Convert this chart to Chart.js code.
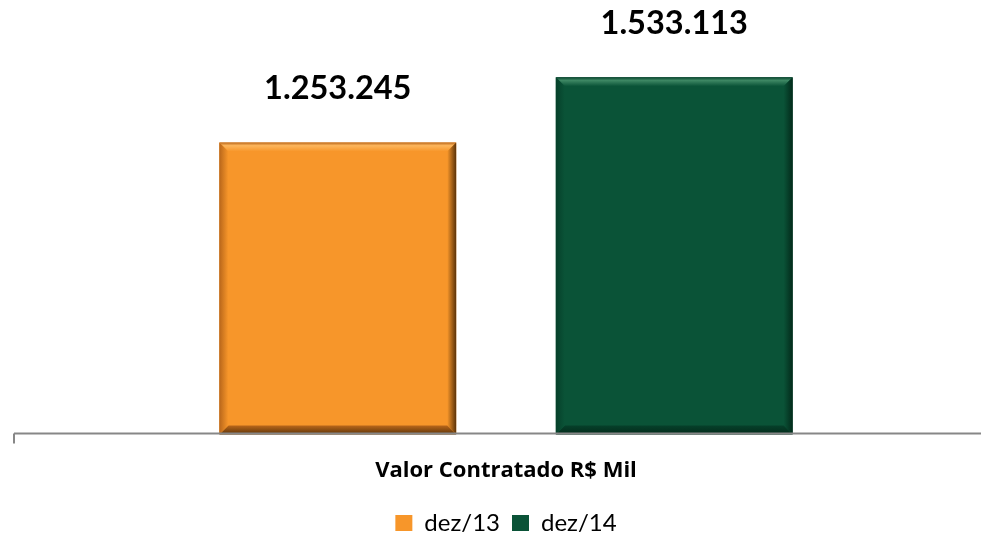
<!DOCTYPE html>
<html>
<head>
<meta charset="utf-8">
<script src="https://cdn.jsdelivr.net/npm/chart.js@4"></script>
<style>
  html, body { margin: 0; padding: 0; background: #fff; }
  #wrap { width: 982px; height: 535px; }
</style>
</head>
<body>
<div id="wrap"><canvas id="c" width="982" height="535"></canvas></div>
<script>
const categories = ['Valor Contratado R$ Mil'];
const seriesNames = ['dez/13', 'dez/14'];
const dez13 = [1253245];
const dez14 = [1533113];
const seriesColors = ['#F7962A', '#0A5337'];
const bevelLight = ['#FDB65C', '#3E8864'];
const bevelDark = ['#5A3208', '#032A1A'];
const bevelMid = ['#B8661A', '#06402A'];

function fmt(v) {
  return v.toString().replace(/\B(?=(\d{3})+(?!\d))/g, '.');
}

// bevel on each bar, like the Excel "relevo" style
const bevelPlugin = {
  id: 'bevel',
  afterDatasetsDraw(chart) {
    const ctx = chart.ctx;
    chart.data.datasets.forEach((ds, i) => {
      chart.getDatasetMeta(i).data.forEach(bar => {
        const l = bar.x - bar.width / 2, r = bar.x + bar.width / 2;
        const t = bar.y, b = bar.base;
        const e = 9;
        const poly = (pts, fill) => {
          ctx.beginPath();
          ctx.moveTo(pts[0][0], pts[0][1]);
          pts.slice(1).forEach(p => ctx.lineTo(p[0], p[1]));
          ctx.closePath();
          ctx.fillStyle = fill;
          ctx.fill();
        };
        ctx.save();
        let g = ctx.createLinearGradient(0, t, 0, t + e);
        g.addColorStop(0, bevelMid[i]);
        g.addColorStop(0.35, bevelLight[i]);
        g.addColorStop(1, seriesColors[i]);
        poly([[l, t], [r, t], [r - e, t + e], [l + e, t + e]], g);
        g = ctx.createLinearGradient(r - e, 0, r, 0);
        g.addColorStop(0, seriesColors[i]);
        g.addColorStop(1, bevelDark[i]);
        poly([[r, t], [r, b], [r - e, b - e], [r - e, t + e]], g);
        g = ctx.createLinearGradient(0, b - e, 0, b);
        g.addColorStop(0, bevelMid[i]);
        g.addColorStop(1, bevelDark[i]);
        poly([[l, b], [r, b], [r - e, b - e], [l + e, b - e]], g);
        g = ctx.createLinearGradient(l, 0, l + e, 0);
        g.addColorStop(0, bevelMid[i]);
        g.addColorStop(1, seriesColors[i]);
        poly([[l, t], [l, b], [l + e, b - e], [l + e, t + e]], g);
        ctx.restore();
      });
    });
  }
};

const labelPlugin = {
  id: 'valueLabels',
  afterDraw(chart) {
    const ctx = chart.ctx;
    const y0 = chart.scales.y.getPixelForValue(0) - 1;
    ctx.save();
    // axis line and the single left tick
    ctx.strokeStyle = '#878787';
    ctx.lineWidth = 2;
    ctx.beginPath();
    ctx.moveTo(14, y0);
    ctx.lineTo(chart.chartArea.right, y0);
    ctx.moveTo(14, y0);
    ctx.lineTo(14, y0 + 10);
    ctx.stroke();
    ctx.fillStyle = '#000';
    ctx.font = 'bold 32.5px Lato';
    ctx.textAlign = 'center';
    ctx.textBaseline = 'middle';
    chart.data.datasets.forEach((ds, i) => {
      chart.getDatasetMeta(i).data.forEach((bar, j) => {
        ctx.fillText(fmt(ds.data[j]), bar.x, bar.y - 54);
      });
    });
    ctx.restore();
  }
};

new Chart(document.getElementById('c'), {
  type: 'bar',
  data: {
    labels: categories,
    datasets: [
      { label: seriesNames[0], data: dez13, backgroundColor: seriesColors[0] },
      { label: seriesNames[1], data: dez14, backgroundColor: seriesColors[1] }
    ]
  },
  options: {
    responsive: false,
    animation: false,
    categoryPercentage: 0.7084,
    barPercentage: 0.704,
    layout: { padding: { left: 31, right: 1, top: 15, bottom: -10 } },
    plugins: {
      legend: {
        position: 'bottom',
        labels: {
          color: '#000',
          font: { family: 'Lato', size: 24, lineHeight: 1 },
          boxWidth: 17,
          boxHeight: 16,
          padding: 12
        }
      },
      tooltip: { enabled: false }
    },
    scales: {
      x: {
        grid: { display: false },
        border: { display: false },
        ticks: { color: '#000', font: { family: 'Open Sans', size: 22, weight: 'bold' }, padding: 15 }
      },
      y: { display: false, min: 0, max: 1800000 }
    }
  },
  plugins: [bevelPlugin, labelPlugin]
});
</script>
</body>
</html>
